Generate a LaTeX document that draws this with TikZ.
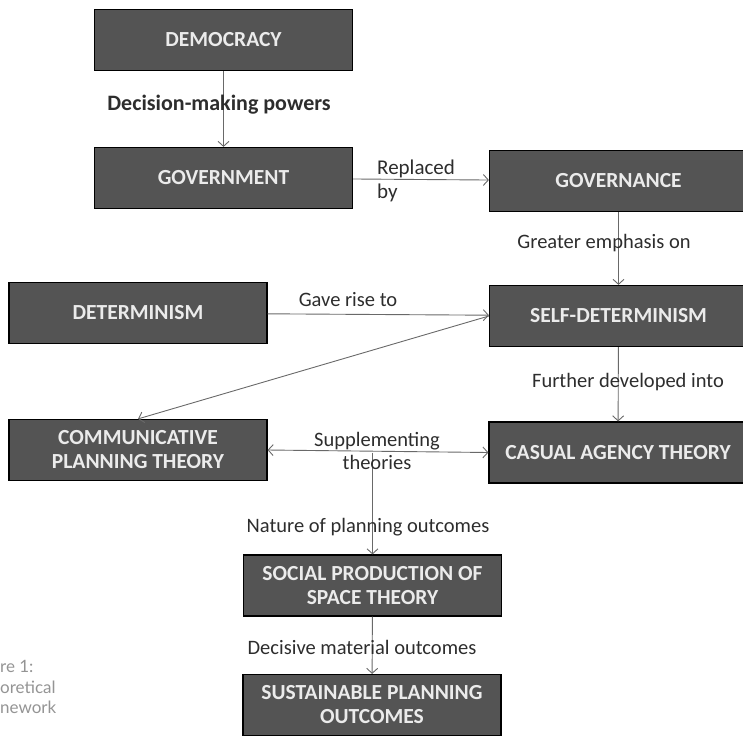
\documentclass[tikz,border=0pt]{standalone}
\usepackage{fontspec}
\setmainfont{Carlito}
\newfontfamily\capfont{Lato}
\usetikzlibrary{arrows.meta}
\definecolor{boxgray}{RGB}{84,84,84}
\definecolor{txtgray}{RGB}{45,45,45}
\definecolor{linegray}{RGB}{105,105,105}
\begin{document}
\begin{tikzpicture}[x=1pt,y=-1pt,>={Straight Barb[length=5pt,width=11pt]},
  box/.style={draw=black,line width=1.2pt,fill=boxgray,text=white!92!black,
    font=\fontsize{21.5}{24}\selectfont\bfseries,minimum width=258pt,minimum height=61pt,
    align=center,inner sep=0pt},
  lbl/.style={text=txtgray,font=\fontsize{20.5}{23}\selectfont,inner sep=0pt,align=center},
  link/.style={draw=linegray,line width=0.9pt}]
\useasboundingbox (0,0) rectangle (743,736);
\node[box](demo) at (223.5,40){DEMOCRACY};
\node[box](govt) at (223.5,178){GOVERNMENT};
\node[box](gova) at (618.5,181){GOVERNANCE};
\node[box](det) at (138,313){DETERMINISM};
\node[box](self) at (618.5,316){SELF-DETERMINISM};
\node[box](comm) at (138,450){COMMUNICATIVE\\PLANNING THEORY};
\node[box](casual) at (618,452.5){CASUAL AGENCY THEORY};
\node[box](soc) at (372.5,585.5){SOCIAL PRODUCTION OF\\SPACE THEORY};
\node[box](sust) at (372,705){SUSTAINABLE PLANNING\\OUTCOMES};

\draw[link,->](demo)--(govt);
\draw[link,->](govt)--(gova);
\draw[link,->](gova)--(self);
\draw[link,->](det)--(self);
\draw[link,->](self.west)--(comm.north);
\draw[link,->](self)--(casual);
\draw[link,<->](comm.east)--(casual.west);
\coordinate (split) at (soc.north |- casual.west);
\draw[link,->](split)--(soc.north);
\draw[link,->](soc)--(sust);

\node[lbl,font=\fontsize{22}{24}\selectfont\bfseries](l1) at (219,105){Decision-making powers};
\node[lbl,align=left,anchor=west,font=\fontsize{21}{24}\selectfont](l2) at (377,181){Replaced\\by};
\node[lbl](l3) at (604,243){Greater emphasis on};
\node[lbl](l4) at (348,300){Gave rise to};
\node[lbl](l5) at (628,382){Further developed into};
\node[lbl](l6) at (377,451){Supplementing\\theories};
\node[lbl](l7) at (368,527){Nature of planning outcomes};
\node[lbl](l8) at (362,647){Decisive material outcomes};

\foreach \t/\y in {re 1:/666,oretical/687,nework/707}
{
    \node[anchor=west,inner sep=0pt,text=black!42,font=\capfont\fontsize{17}{20}\selectfont] at (0,\y){\t};
}
\end{tikzpicture}
\end{document}
